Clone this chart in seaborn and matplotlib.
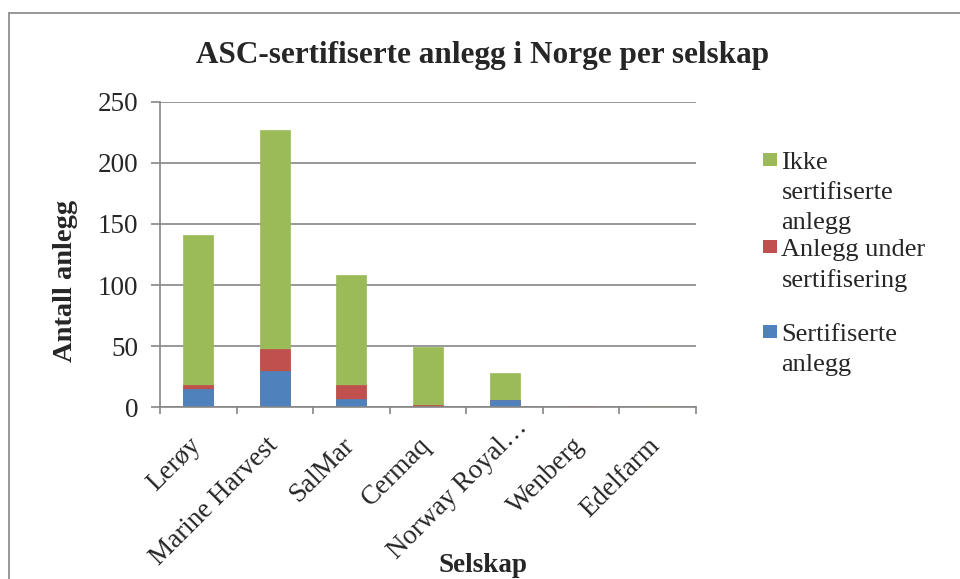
"""
ASC-sertifiserte anlegg i Norge per selskap – stacked bar chart
"""

import matplotlib.pyplot as plt
import pandas as pd
import seaborn as sns
from matplotlib.lines import Line2D
from matplotlib.patches import Patch
from matplotlib.transforms import ScaledTranslation

# === DATA ===
selskaper = ["Lerøy", "Marine Harvest", "SalMar", "Cermaq",
             "Norway Royal…", "Wenberg", "Edelfarm"]
sertifiserte = [15, 30, 7, 0, 6, 0, 0]
under_sertifisering = [3, 18, 11, 2, 0, 1, 0]
ikke_sertifiserte = [123, 179, 90, 47, 22, 0, 1]

# legend labels, one list item per printed line
labels = [["Ikke", "sertifiserte", "anlegg"],
          ["Anlegg under", "sertifisering"],
          ["Sertifiserte", "anlegg"]]

BLUE = "#4F81BD"
RED = "#C0504D"
GREEN = "#9BBB59"
GREY = "#868686"

df = pd.DataFrame({
    "selskap": selskaper,
    "blaa": sertifiserte,
    "roed": under_sertifisering,
    "groenn": ikke_sertifiserte,
})
df["sum_roed"] = df["blaa"] + df["roed"]
df["sum_groenn"] = df["sum_roed"] + df["groenn"]

sns.set_style("white")
plt.rcParams["font.family"] = ["Liberation Serif", "DejaVu Serif"]

fig = plt.figure(figsize=(9.6, 5.79), dpi=100)
ax = fig.add_axes([160 / 960, 1 - 407.3 / 579, 536 / 960, 305.6 / 579])

# stacked bars: draw the cumulative totals back to front
for col, color in [("sum_groenn", GREEN), ("sum_roed", RED), ("blaa", BLUE)]:
    sns.barplot(data=df, x="selskap", y=col, color=color, width=0.39,
                edgecolor=color, linewidth=0.5, saturation=1, ax=ax, zorder=3)

ax.set_xlim(-0.5, len(selskaper) - 0.5)
ax.set_ylim(0, 250)
ax.set_yticks(range(0, 251, 50))
ax.grid(axis="y", color=GREY, linewidth=1.2, zorder=0)
ax.grid(axis="x", visible=False)
ax.set_axisbelow(True)
for side in ["top", "right"]:
    ax.spines[side].set_visible(False)
for side in ["left", "bottom"]:
    ax.spines[side].set_color(GREY)
    ax.spines[side].set_linewidth(1.2)
    ax.spines[side].set_zorder(4)

# category labels on major ticks, tick marks between categories
ax.set_xticks(range(len(selskaper)))
ax.set_xticklabels(selskaper, rotation=45, ha="right", va="top",
                   rotation_mode="anchor", fontsize=19.5)
ax.set_xticks([i - 0.5 for i in range(len(selskaper) + 1)], minor=True)
ax.tick_params(axis="x", which="major", length=0, pad=9)
ax.tick_params(axis="x", which="minor", length=5, width=1.2, color=GREY,
               direction="out", bottom=True)
ax.tick_params(axis="y", length=6.5, width=1.2, color=GREY, direction="out",
               left=True, labelsize=19.5, pad=9)
for lbl in ax.get_xticklabels():
    dx, dy = -0.10, -0.13
    if lbl.get_text().endswith("…"):
        # the shortened label sits further up along its slope
        dx, dy = 0.10, 0.05
    lbl.set_transform(lbl.get_transform()
                      + ScaledTranslation(dx, dy, fig.dpi_scale_trans))
ax.set_xlabel("")
ax.set_ylabel("")

fig.text(483 / 960, 1 - 55 / 579, "ASC-sertifiserte anlegg i Norge per selskap",
         ha="center", va="center", fontsize=22.5, fontweight="bold")
fig.text(483 / 960, 1 - 565 / 579, "Selskap", ha="center", va="center",
         fontsize=19.5, fontweight="bold")
fig.text(65 / 960, 1 - 281 / 579, "Antall anlegg", ha="center", va="center",
         rotation=90, fontsize=20.5, fontweight="bold")

# legend: one box per series, continuation lines get an empty handle
legend_tops = [152, 239, 324]
for lines, color, top in zip(labels, [GREEN, RED, BLUE], legend_tops):
    handles = [Patch(facecolor=color, edgecolor="none")]
    handles += [Patch(facecolor="none", edgecolor="none")] * (len(lines) - 1)
    fig.legend(handles=handles, labels=lines, loc="upper left",
               bbox_to_anchor=(763 / 960, 1 - top / 579),
               frameon=False, fontsize=19, handlelength=0.53,
               handleheight=0.4, handletextpad=0.17, borderpad=0,
               borderaxespad=0, labelspacing=0.3)

# chart area border (only top and left edges are inside the picture)
fig.add_artist(Line2D([9 / 960, 1.0], [1 - 13 / 579] * 2,
                      transform=fig.transFigure, color=GREY, linewidth=1.2))
fig.add_artist(Line2D([9 / 960] * 2, [0.0, 1 - 13 / 579],
                      transform=fig.transFigure, color=GREY, linewidth=1.2))

fig.savefig("out.png", dpi=100, facecolor="white")
